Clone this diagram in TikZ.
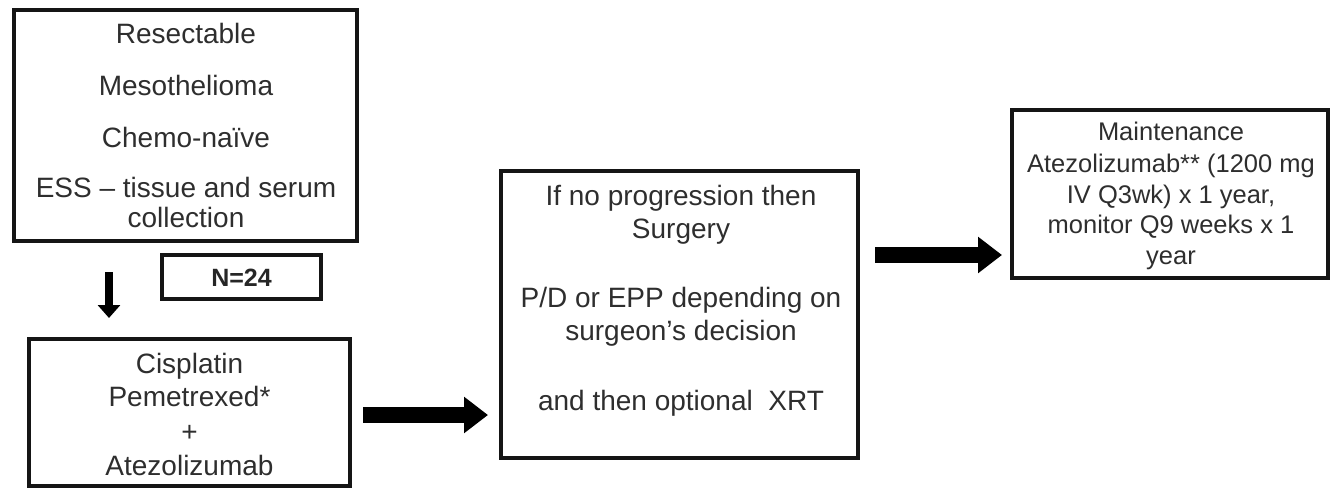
\documentclass[tikz,border=0pt]{standalone}
\usepackage{fontspec}
\setmainfont{Liberation Sans}
\usetikzlibrary{arrows.meta}
\definecolor{textgray}{HTML}{2E2E2E}
\definecolor{linegray}{HTML}{151515}
\tikzset{
  box/.style={draw=linegray, line width=3.2pt, rectangle, inner sep=0pt, outer sep=0pt},
  txt/.style={anchor=base, inner sep=0pt, text=textgray, font=\fontsize{28}{33}\selectfont},
  txtsm/.style={anchor=base, inner sep=0pt, text=textgray, font=\fontsize{25.5}{31}\selectfont},
  txtbold/.style={anchor=base, inner sep=0pt, text=black!85, font=\fontsize{25}{30}\selectfont\bfseries},
  fatarrow/.style={draw=black, line width=16pt, -{Triangle[length=24pt,width=35pt]}},
  thinarrow/.style={draw=black, line width=8pt, -{Triangle[length=13pt,width=22pt]}}
}
\begin{document}
\begin{tikzpicture}[x=1pt,y=-1pt]
\useasboundingbox (0,0) rectangle (1331,488);
% boxes
\node[box, minimum width=343pt, minimum height=231pt] (b1) at (185.5,125.5) {};
\node[box, minimum width=159pt, minimum height=44pt] (nb) at (241.5,277) {};
\node[box, minimum width=321pt, minimum height=147pt] (b2) at (189.5,412.5) {};
\node[box, minimum width=357pt, minimum height=287pt] (b3) at (679.5,314.5) {};
\node[box, minimum width=316pt, minimum height=168pt] (b4) at (1170,194) {};
% box 1 text
\node[txt] (t11) at (186,43) {Resectable};
\node[txt] (t12) at (186,95) {Mesothelioma};
\node[txt] (t13) at (186,147) {Chemo-naïve};
\node[txt] (t14) at (186,197) {ESS – tissue and serum};
\node[txt] (t15) at (186,227) {collection};
% N=24
\node[txtbold] (tn) at (241.5,286) {N=24};
% box 2 text
\node[txt] (t21) at (189.5,373) {Cisplatin};
\node[txt] (t22) at (189.5,406) {Pemetrexed*};
\node[txt] (t23) at (189.5,441) {+};
\node[txt] (t24) at (189.5,475) {Atezolizumab};
% box 3 text
\node[txt] (t31) at (681,205) {If no progression then};
\node[txt] (t32) at (681,238) {Surgery};
\node[txt] (t33) at (681,307) {P/D or EPP depending on};
\node[txt] (t34) at (681,340) {surgeon’s decision};
\node[txt] (t35) at (681,410) {and then optional\ \ XRT};
% box 4 text
\node[txtsm] (t41) at (1171,140) {Maintenance};
\node[txtsm] (t42) at (1171,172) {Atezolizumab** (1200 mg};
\node[txtsm] (t43) at (1171,203) {IV Q3wk) x 1 year,};
\node[txtsm] (t44) at (1171,233) {monitor Q9 weeks x 1};
\node[txtsm] (t45) at (1171,264) {year};
% arrows
\coordinate (ax) at (109,0);
\coordinate (ay2) at (0,255);
\coordinate (ay1) at (0,415);
\draw[thinarrow, shorten <=31pt, shorten >=21pt] (b1.south -| ax) -- (b2.north -| ax);
\draw[fatarrow, shorten <=13pt, shorten >=13pt] (b2.east |- ay1) -- (b3.west |- ay1);
\draw[fatarrow, shorten <=17pt, shorten >=10pt] (b3.east |- ay2) -- (b4.west |- ay2);
\end{tikzpicture}
\end{document}
